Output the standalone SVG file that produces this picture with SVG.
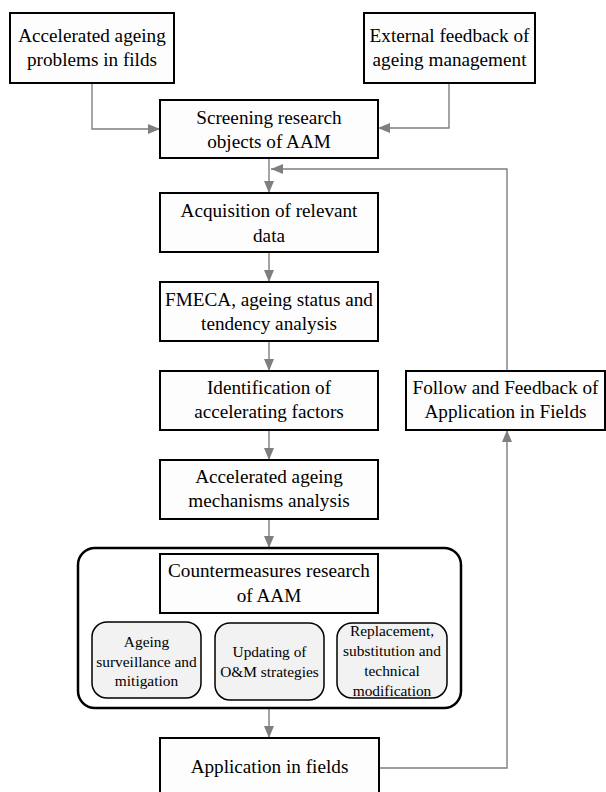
<svg xmlns="http://www.w3.org/2000/svg" width="606" height="792" viewBox="0 0 606 792">
  <style>
    .box { fill: #fdfdfd; stroke: #000; stroke-width: 2; }
    .sub { fill: #f2f2f2; stroke: #000; stroke-width: 1.5; }
    .outer { fill: none; stroke: #000; stroke-width: 2.5; }
    text { font-family: 'Liberation Serif', 'Times New Roman', serif; fill: #000; text-anchor: middle; }
    .t { font-size: 19.2px; }
    .s { font-size: 15.4px; }
    .c { fill: none; stroke: #7f7f7f; stroke-width: 1.4; }
  </style>
  <defs>
    <marker id="ah" markerWidth="12" markerHeight="10" refX="12" refY="5" orient="auto" markerUnits="userSpaceOnUse">
      <path d="M0,0 L12,5 L0,10 z" fill="#7f7f7f"/>
    </marker>
  </defs>
  <rect width="606" height="792" fill="#fff"/>

  <g id="connectors">
    <path class="c" d="M92,83 V129 H160" marker-end="url(#ah)"/>
    <path class="c" d="M449,83 V128 H378" marker-end="url(#ah)"/>
    <path class="c" d="M269,158 V193" marker-end="url(#ah)"/>
    <path class="c" d="M269,252 V282" marker-end="url(#ah)"/>
    <path class="c" d="M269,341 V371" marker-end="url(#ah)"/>
    <path class="c" d="M269,430 V460" marker-end="url(#ah)"/>
    <path class="c" d="M269,519 V548" marker-end="url(#ah)"/>
    <path class="c" d="M269,708 V738" marker-end="url(#ah)"/>
    <path class="c" d="M379,768 H507 V430" marker-end="url(#ah)"/>
    <path class="c" d="M507,371 V169 H271" marker-end="url(#ah)"/>
  </g>

  <g id="n-problems">
    <rect class="box" x="10" y="13" width="164" height="70"/>
    <text class="t" x="92" y="42">Accelerated ageing</text>
    <text class="t" x="92" y="66">problems in filds</text>
  </g>
  <g id="n-external">
    <rect class="box" x="364" y="13" width="171" height="70"/>
    <text class="t" x="449.5" y="42">External feedback of</text>
    <text class="t" x="449.5" y="66">ageing management</text>
  </g>
  <g id="n-screening">
    <rect class="box" x="160" y="100" width="218" height="58"/>
    <text class="t" x="269" y="123.5">Screening research</text>
    <text class="t" x="269" y="148">objects of AAM</text>
  </g>
  <g id="n-acquisition">
    <rect class="box" x="160" y="193" width="218" height="59"/>
    <text class="t" x="269" y="217">Acquisition of relevant</text>
    <text class="t" x="269" y="242">data</text>
  </g>
  <g id="n-fmeca">
    <rect class="box" x="160" y="282" width="218" height="59"/>
    <text class="t" x="269" y="306">FMECA, ageing status and</text>
    <text class="t" x="269" y="330">tendency analysis</text>
  </g>
  <g id="n-identification">
    <rect class="box" x="160" y="371" width="218" height="59"/>
    <text class="t" x="269" y="394">Identification of</text>
    <text class="t" x="269" y="418">accelerating factors</text>
  </g>
  <g id="n-mechanisms">
    <rect class="box" x="160" y="460" width="218" height="59"/>
    <text class="t" x="269" y="483">Accelerated ageing</text>
    <text class="t" x="269" y="507">mechanisms analysis</text>
  </g>
  <g id="n-follow">
    <rect class="box" x="406" y="371" width="199" height="59"/>
    <text class="t" x="505.5" y="394">Follow and Feedback of</text>
    <text class="t" x="505.5" y="418">Application in Fields</text>
  </g>
  <g id="n-countermeasures-group">
    <rect class="outer" x="78" y="548" width="383" height="160" rx="17" ry="17"/>
  </g>
  <g id="n-countermeasures">
    <rect class="box" x="160" y="554" width="218" height="59"/>
    <text class="t" x="269" y="577">Countermeasures research</text>
    <text class="t" x="269" y="602">of AAM</text>
  </g>
  <g id="n-surveillance">
    <rect class="sub" x="92" y="622" width="109" height="76" rx="15" ry="15"/>
    <text class="s" x="146.5" y="647">Ageing</text>
    <text class="s" x="146.5" y="666.5">surveillance and</text>
    <text class="s" x="146.5" y="686">mitigation</text>
  </g>
  <g id="n-updating">
    <rect class="sub" x="215" y="623" width="109" height="77" rx="15" ry="15"/>
    <text class="s" x="269.5" y="657">Updating of</text>
    <text class="s" x="269.5" y="677">O&amp;M strategies</text>
  </g>
  <g id="n-replacement">
    <rect class="sub" x="337" y="623" width="110" height="75" rx="15" ry="15"/>
    <text class="s" x="392" y="636">Replacement,</text>
    <text class="s" x="392" y="656">substitution and</text>
    <text class="s" x="392" y="676">technical</text>
    <text class="s" x="392" y="696">modification</text>
  </g>
  <g id="n-application">
    <rect class="box" x="160" y="738" width="219" height="58"/>
    <text class="t" x="269.5" y="773">Application in fields</text>
  </g>
</svg>
